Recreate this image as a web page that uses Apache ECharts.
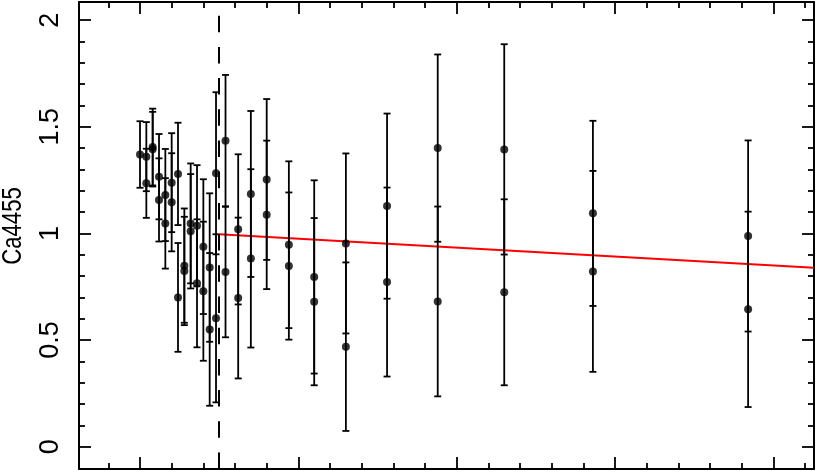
<!DOCTYPE html>
<html>
<head>
<meta charset="utf-8">
<script src="https://cdn.jsdelivr.net/npm/echarts@6/dist/echarts.min.js"></script>
<style>
  html, body { margin: 0; padding: 0; background: #fff; }
  #chart { width: 817px; height: 472px; }
</style>
</head>
<body>
<div id="chart"></div>
<script>
// radial bins (x units, labels not shown in the figure)
const radius = [5.0, 5.2, 5.4, 5.6, 5.8, 6.0, 6.2, 6.4, 6.6, 6.8, 7.0, 7.2, 7.4, 7.7, 8.1,
                8.5, 9.0, 9.7, 10.5, 11.5, 12.8, 14.4, 16.5, 19.3, 24.2]
// first set of Ca4455 measurements + 1 sigma errors
const caA = [1.37, 1.36, 1.405, 1.266, 1.18, 1.238, 1.279, 0.849, 1.047, 1.036, 0.938, 0.84, 1.282, 1.435, 1.019,
             1.185, 1.253, 0.947, 0.796, 0.953, 1.128, 1.40, 1.394, 1.094, 0.988]
const errA = [0.156, 0.162, 0.18, 0.2, 0.216, 0.232, 0.24, 0.268, 0.281, 0.284, 0.316, 0.348, 0.38, 0.308, 0.352,
              0.389, 0.377, 0.391, 0.453, 0.422, 0.434, 0.439, 0.493, 0.434, 0.448]
// second set
const caB = [null, 1.235, 1.395, 1.157, 1.047, 1.146, 0.70, 0.824, 1.01, 0.766, 0.729, 0.55, 0.602, 0.819, 0.697,
             0.883, 1.087, 0.847, 0.68, 0.469, 0.772, 0.681, 0.724, 0.822, 0.644]
const errB = [null, 0.162, 0.175, 0.195, 0.212, 0.23, 0.255, 0.254, 0.268, 0.30, 0.326, 0.358, 0.394, 0.306, 0.377,
              0.418, 0.348, 0.345, 0.392, 0.395, 0.443, 0.445, 0.436, 0.471, 0.458]
// red fit line and dashed separator
const fitX = [7.5, 26.28]
const fitY = [0.996, 0.839]
const cutX = 7.5

// axis ranges and ticks
const xMin = 3.074, xMax = 26.28
const yMin = -0.1045, yMax = 2.085
const xMajor = [5, 10, 15, 20, 25]
const xMinor = [4, 6, 7, 8, 9, 11, 12, 13, 14, 16, 17, 18, 19, 21, 22, 23, 24, 26]
const yMajor = [0, 0.5, 1, 1.5, 2]
const yMinor = [0.1, 0.2, 0.3, 0.4, 0.6, 0.7, 0.8, 0.9, 1.1, 1.2, 1.3, 1.4, 1.6, 1.7, 1.8, 1.9]
const yTitle = 'Ca4455'

const INK = '#000'
const FONT = 'Liberation Sans'
const FS = 27

const points = []
const bars = []
radius.forEach((r, i) => {
    if (caA[i] != null) {
        points.push([r, caA[i]])
        bars.push([r, caA[i] - errA[i], caA[i] + errA[i]])
    }
    if (caB[i] != null) {
        points.push([r, caB[i]])
        bars.push([r, caB[i] - errB[i], caB[i] + errB[i]])
    }
})

function tickAxis(pos, ticks, len, main, extra) {
    const horiz = pos === 'top' || pos === 'bottom'
    return Object.assign({
        type: 'value',
        position: pos,
        min: horiz ? xMin : yMin,
        max: horiz ? xMax : yMax,
        axisLine: { show: main, onZero: false, lineStyle: { color: INK, width: 2 } },
        axisTick: { show: true, inside: true, length: len, customValues: ticks, lineStyle: { color: INK, width: 1.8 } },
        axisLabel: { show: false },
        splitLine: { show: false }
    }, extra || {})
}

function renderBar(params, api) {
    const x = api.value(0)
    const lo = api.coord([x, api.value(1)])
    const hi = api.coord([x, api.value(2)])
    const w = 3.5
    const style = { stroke: INK, lineWidth: 1.8, fill: null }
    return {
        type: 'group',
        children: [
            { type: 'line', shape: { x1: lo[0], y1: lo[1], x2: hi[0], y2: hi[1] }, style },
            { type: 'line', shape: { x1: lo[0] - w, y1: lo[1], x2: lo[0] + w, y2: lo[1] }, style },
            { type: 'line', shape: { x1: hi[0] - w, y1: hi[1], x2: hi[0] + w, y2: hi[1] }, style }
        ]
    }
}

const chart = echarts.init(document.getElementById('chart'), null, { renderer: 'canvas' })
chart.setOption({
    animation: false,
    backgroundColor: '#fff',
    grid: { left: 79, right: 3, top: 2, bottom: 3, containLabel: false },
    graphic: [{
        type: 'text',
        x: 13.5,
        y: 226,
        rotation: Math.PI / 2,
        scaleX: 0.82,
        style: {
            text: yTitle,
            fontSize: FS,
            fontFamily: FONT,
            fill: INK,
            align: 'center',
            verticalAlign: 'middle',
            textAlign: 'center',
            textVerticalAlign: 'middle'
        }
    }],
    xAxis: [
        tickAxis('bottom', xMajor, 12, true),
        tickAxis('bottom', xMinor, 6, false),
        tickAxis('top', xMajor, 12, true),
        tickAxis('top', xMinor, 6, false)
    ],
    yAxis: [
        tickAxis('left', yMajor, 12, true, {
            axisLabel: {
                show: true, customValues: yMajor, rotate: 90, margin: 15,
                fontSize: FS, fontFamily: FONT, color: INK
            }
        }),
        tickAxis('left', yMinor, 6, false),
        tickAxis('right', yMajor, 12, true),
        tickAxis('right', yMinor, 6, false)
    ],
    series: [
        {
            type: 'line',
            data: fitX.map((x, i) => [x, fitY[i]]),
            showSymbol: false,
            lineStyle: { color: '#ff0000', width: 2 },
            z: 1,
            markLine: {
                silent: true,
                symbol: 'none',
                label: { show: false },
                lineStyle: { color: INK, width: 2, type: [16.5, 14.7] },
                data: [{ xAxis: cutX }]
            }
        },
        {
            type: 'custom',
            data: bars,
            renderItem: renderBar,
            z: 2
        },
        {
            type: 'scatter',
            data: points,
            symbol: 'circle',
            symbolSize: 8,
            itemStyle: { color: INK },
            z: 3
        }
    ]
})
</script>
</body>
</html>
